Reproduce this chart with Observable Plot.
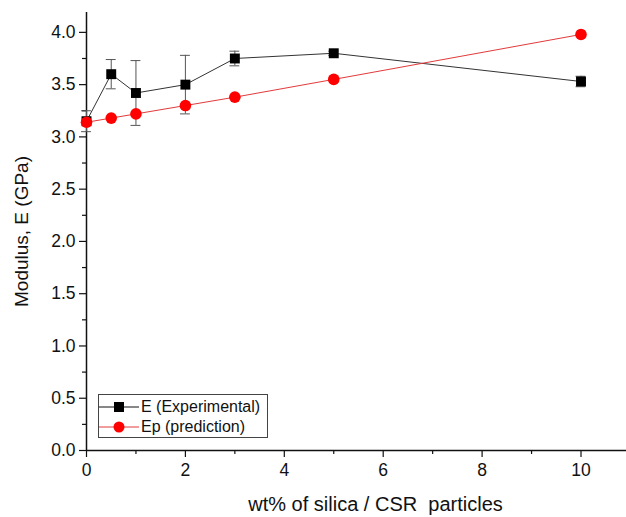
<!DOCTYPE html>
<html>
<head>
<meta charset="utf-8">
<script src="https://cdn.jsdelivr.net/npm/d3@7"></script>
<script src="https://cdn.jsdelivr.net/npm/@observablehq/plot@0.6"></script>
<style>
  body { margin: 0; background: #fff; font-family: "Liberation Sans", Arial, sans-serif; }
  #wrap { position: relative; width: 626px; height: 517px; }
  #legend { position: absolute; left: 98px; top: 394px; width: 170px; height: 44px;
    border: 1px solid #444; background: #fff; font-size: 16px; color: #111; box-sizing: border-box; }
  #legend .row { position: absolute; left: 0; height: 20px; display: flex; align-items: center; }
  #legend svg { display: block; }
</style>
</head>
<body>
<div id="wrap"></div>
<script>
// Data
const wt = [0, 0.5, 1, 2, 3, 5, 10];
const expE = [3.15, 3.60, 3.42, 3.50, 3.75, 3.80, 3.53];
const expErr = [0.10, 0.14, 0.31, 0.28, 0.07, 0.02, 0.05];
const predE = [3.14, 3.18, 3.22, 3.30, 3.38, 3.55, 3.98];
const xTicks = [0, 2, 4, 6, 8, 10];
const xMinor = [1, 3, 5, 7, 9];
const yTicks = [0, 0.5, 1.0, 1.5, 2.0, 2.5, 3.0, 3.5, 4.0];
const yMinor = [0.25, 0.75, 1.25, 1.75, 2.25, 2.75, 3.25, 3.75];
const seriesNames = ["E (Experimental)", "Ep (prediction)"];
const xTitle = "wt% of silica / CSR\u00a0 particles";
const yTitle = "Modulus, E (GPa)";

const exp = wt.map((x, i) => ({x, y: expE[i], lo: expE[i] - expErr[i], hi: expE[i] + expErr[i]}));
const pred = wt.map((x, i) => ({x, y: predE[i]}));
const capW = 0.1;

const chart = Plot.plot({
  width: 626,
  height: 517,
  marginLeft: 86,
  marginRight: 0,
  marginTop: 12,
  marginBottom: 67,
  style: {fontFamily: "Liberation Sans, Arial, sans-serif", fontSize: "17px", color: "#111", background: "#fff"},
  x: {domain: [0, 10.92]},
  y: {domain: [0, 4.19]},
  marks: [
    // minor ticks
    Plot.axisX({ticks: xMinor, tickSize: 4, tickFormat: () => "", label: null, strokeWidth: 1.2}),
    Plot.axisY({ticks: yMinor, tickSize: 4, tickFormat: () => "", label: null, strokeWidth: 1.2}),
    // major ticks
    Plot.axisX({ticks: xTicks, tickSize: 7, tickPadding: 6, tickFormat: d3.format("d"), label: null, fontSize: 17.5, strokeWidth: 1.2}),
    Plot.axisY({ticks: yTicks, tickSize: 7, tickPadding: 4, tickFormat: d3.format(".1f"), label: null, fontSize: 17.5, strokeWidth: 1.2}),
    // axis titles
    Plot.text([xTitle], {text: d => d, frameAnchor: "bottom", dx: 19, dy: 60, fontSize: 20, lineAnchor: "bottom", fill: "#111"}),
    Plot.axisY({ticks: [], label: yTitle, labelAnchor: "center", labelArrow: "none", labelOffset: 72, fontSize: 19}),
    Plot.ruleX([0], {stroke: "#111", strokeWidth: 1.5}),
    Plot.ruleY([0], {stroke: "#111", strokeWidth: 1.5}),
    // error bars
    Plot.ruleX(exp, {x: "x", y1: "lo", y2: "hi", stroke: "#555", strokeWidth: 1}),
    Plot.ruleY(exp, {y: "hi", x1: d => d.x - capW, x2: d => d.x + capW, stroke: "#555", strokeWidth: 1}),
    Plot.ruleY(exp, {y: "lo", x1: d => d.x - capW, x2: d => d.x + capW, stroke: "#555", strokeWidth: 1}),
    // experimental
    Plot.line(exp, {x: "x", y: "y", stroke: "#333", strokeWidth: 1}),
    Plot.dot(exp, {x: "x", y: "y", symbol: "square", r: 5.6, fill: "#000", stroke: "none"}),
    // prediction
    Plot.line(pred, {x: "x", y: "y", stroke: "#e23a3a", strokeWidth: 1}),
    Plot.dot(pred, {x: "x", y: "y", symbol: "circle", r: 5.8, fill: "#ff0000", stroke: "none"})
  ]
});

const wrap = document.getElementById("wrap");
wrap.appendChild(chart);

const legend = document.createElement("div");
legend.id = "legend";
const rows = [
  {name: seriesNames[0], color: "#111", marker: "square"},
  {name: seriesNames[1], color: "#e23a3a", marker: "circle", fill: "#ff0000"}
];
rows.forEach((r, i) => {
  const row = document.createElement("div");
  row.className = "row";
  row.style.top = (2 + i * 20) + "px";
  const ns = "http://www.w3.org/2000/svg";
  const s = document.createElementNS(ns, "svg");
  s.setAttribute("width", 40); s.setAttribute("height", 20);
  const l = document.createElementNS(ns, "line");
  l.setAttribute("x1", 0); l.setAttribute("x2", 40); l.setAttribute("y1", 10); l.setAttribute("y2", 10);
  l.setAttribute("stroke", r.color); l.setAttribute("stroke-width", 1);
  s.appendChild(l);
  if (r.marker === "square") {
    const q = document.createElementNS(ns, "rect");
    q.setAttribute("x", 15); q.setAttribute("y", 5); q.setAttribute("width", 10); q.setAttribute("height", 10);
    q.setAttribute("fill", "#000"); s.appendChild(q);
  } else {
    const c = document.createElementNS(ns, "circle");
    c.setAttribute("cx", 20); c.setAttribute("cy", 10); c.setAttribute("r", 5.5);
    c.setAttribute("fill", r.fill); s.appendChild(c);
  }
  row.appendChild(s);
  const t = document.createElement("span");
  t.textContent = r.name;
  t.style.marginLeft = "2px";
  row.appendChild(t);
  legend.appendChild(row);
});
wrap.appendChild(legend);
</script>
</body>
</html>
